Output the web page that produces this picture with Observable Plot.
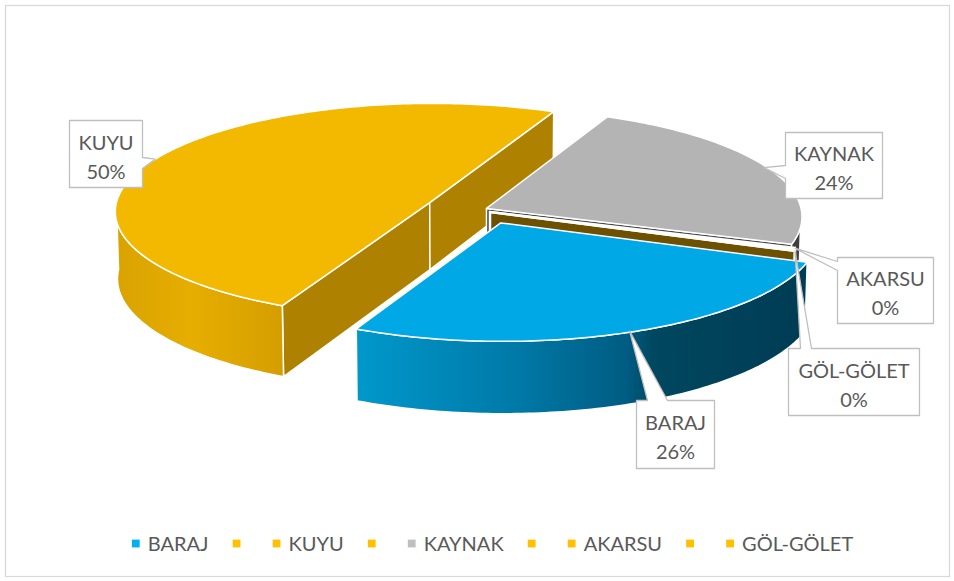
<!DOCTYPE html>
<html>
<head>
<meta charset="utf-8">
<script src="https://cdn.jsdelivr.net/npm/d3@7"></script>
<script src="https://cdn.jsdelivr.net/npm/@observablehq/plot@0.6"></script>
<style>
  html, body { margin: 0; padding: 0; background: #fff; }
  #chart { width: 954px; height: 581px; }
</style>
</head>
<body>
<div id="chart"></div>
<script>
// ---------------- DATA ----------------
const categories = ["BARAJ", "KUYU", "KAYNAK", "AKARSU", "GÖL-GÖLET"];
const values = [26.4, 49.7, 23.5, 0.2, 0.2];
const legendColors = ["#00B0F0", "#FFC000", "#BFBFBF", "#FFC000", "#FFC000"];
const phantomLegendColor = "#FFC000";

// ---------------- STYLE / LAYOUT ----------------
const topFill    = ["#00A8E6", "#F3B800", "#B4B4B4", "#F3B800", "#F3B800"];
const radialFill = ["#005A7E", "#AE8200", "#4A4A4A", "#6E5100", "#6E5100"];
const wallStops = [
  [[0, "#0098CB"], [0.35, "#007AA8"], [0.6, "#005C82"], [0.66, "#00475F"], [1, "#003C54"]],
  [[0, "#D9A200"], [0.45, "#E6AE00"], [1, "#D59E00"]],
  [[0, "#3E3E3E"], [1, "#3E3E3E"]],
  [[0, "#7A5A00"], [1, "#7A5A00"]],
  [[0, "#7A5A00"], [1, "#7A5A00"]]
];
// explosion offsets of each slice in the pie plane
const explode = [[30, 36], [-41, -23], [16, -6], [19, 3], [20, 6]];
const view = { cx: 470, cy: 210, R: 315, H: 72, tilt: 20, dist: 4000, start: 20.46 };
// callout boxes [x0,y0,x1,y1], pointer side & base along that side
const labelLayout = [
  { box: [636, 400, 714, 468], side: "top",   base: [647, 667], tipR: 0.99 },
  { box: [69, 120, 142, 187],  side: "right", base: [157, 168], tipR: 1.0 },
  { box: [785, 132, 882, 198], side: "left",  base: [165, 178], tipR: 0.99 },
  { box: [837, 257, 933, 323], side: "left",  base: [261, 270], tipR: 1.0 },
  { box: [788, 348, 919, 415], side: "top",   base: [800, 811], tipR: 1.0 }
];
const textColor = "#595959";
const fontFamily = "Lato, 'Open Sans', sans-serif";
const fontSize = 20;
const legendY = 543, legendCenter = 492;

// ---------------- GEOMETRY ----------------
const deg = Math.PI / 180;
function proj(u, v, h) {
  const sb = Math.sin(view.tilt * deg), cb = Math.cos(view.tilt * deg);
  const ys = v * sb - h * cb;
  const w = v * cb + h * sb;
  const s = view.dist / (view.dist - w);
  return { x: view.cx + s * u, y: view.cy + s * ys };
}
const total = d3.sum(values);
let acc = view.start;
const slices = values.map((v, i) => {
  const a = acc, b = acc + v / total * 360; acc = b;
  return { i, a, b, mid: (a + b) / 2, ou: explode[i][0], ov: explode[i][1] };
});
function pt(s, theta, h, rf = 1) {
  return proj(s.ou + rf * view.R * Math.cos(theta * deg), s.ov + rf * view.R * Math.sin(theta * deg), h);
}
function arc(s, a, b, h) {
  const n = Math.max(2, Math.ceil(Math.abs(b - a)) + 1);
  return d3.range(n).map(k => pt(s, a + (b - a) * k / (n - 1), h));
}
const apex = (s, h) => proj(s.ou, s.ov, h);

const depth = s => s.ov + 0.5 * view.R * Math.sin(s.mid * deg);
const order = slices.slice().sort((p, q) => depth(p) - depth(q));
const faces = [];
for (const s of order) {
  const Hb = -view.H;
  const walls = [];
  if (Math.cos(s.a * deg) < 0) walls.push(s.a);
  if (Math.cos(s.b * deg) > 0) walls.push(s.b);
  for (const t of walls) {
    faces.push({ pts: [apex(s, 0), pt(s, t, 0), pt(s, t, Hb), apex(s, Hb), apex(s, 0)], fill: radialFill[s.i] });
  }
  for (const base of [0, 360]) {
    const lo = Math.max(s.a, base), hi = Math.min(s.b, base + 180);
    if (hi > lo) {
      const top = arc(s, lo, hi, 0), bot = arc(s, hi, lo, Hb);
      faces.push({ pts: [...top, ...bot, top[0]], fill: `url(#wall${s.i})` });
    }
  }
  faces.push({ pts: [apex(s, 0), ...arc(s, s.a, s.b, 0), apex(s, 0)], fill: topFill[s.i] });
}

// ---------------- CALLOUTS ----------------
function callout(box, side, base, tip) {
  const [x0, y0, x1, y1] = box, [b1, b2] = base;
  const p = [[x0, y0]];
  if (side === "top") p.push([b1, y0], [tip.x, tip.y], [b2, y0]);
  p.push([x1, y0]);
  if (side === "right") p.push([x1, b1], [tip.x, tip.y], [x1, b2]);
  p.push([x1, y1]);
  if (side === "bottom") p.push([b2, y1], [tip.x, tip.y], [b1, y1]);
  p.push([x0, y1]);
  if (side === "left") p.push([x0, b2], [tip.x, tip.y], [x0, b1]);
  p.push([x0, y0]);
  return p.map(([x, y]) => ({ x, y }));
}
const labels = slices.map(s => {
  const L = labelLayout[s.i];
  const tip = pt(s, s.mid, 0, L.tipR);
  return {
    shape: callout(L.box, L.side, L.base, tip),
    x: (L.box[0] + L.box[2]) / 2,
    y: (L.box[1] + L.box[3]) / 2 + 1,
    text: `${categories[s.i]}\n${Math.round(values[s.i] / total * 100)}%`
  };
});
const labelOrder = [0, 1, 2, 4, 3];

// ---------------- LEGEND ----------------
const ctx = document.createElement("canvas").getContext("2d");
ctx.font = `${fontSize}px ${fontFamily}`;
const swatches = [], legendTexts = [];
let cur = 0;
categories.forEach((c, i) => {
  if (i > 0) {
    swatches.push({ x: cur + 28, color: phantomLegendColor });
    cur = cur + 28 + 40;
  }
  swatches.push({ x: cur, color: legendColors[i] });
  legendTexts.push({ x: cur + 12, text: c });
  cur = cur + 12 + ctx.measureText(c).width;
});
const legendWidth = cur + 4;
const shift = legendCenter - legendWidth / 2 + 4;
swatches.forEach(d => { d.x += shift; d.y = legendY; });
legendTexts.forEach(d => { d.x += shift; d.y = legendY; });

// ---------------- PLOT ----------------
const marks = [
  Plot.frame({ inset: 5, stroke: "#D9D9D9", strokeWidth: 1.3 })
];
for (const f of faces) {
  marks.push(Plot.line(f.pts, { x: "x", y: "y", fill: f.fill, stroke: "white", strokeWidth: 1.5, strokeLinejoin: "round" }));
}
for (const k of labelOrder) {
  const l = labels[k];
  marks.push(Plot.line(l.shape, { x: "x", y: "y", fill: "white", stroke: "#BFBFBF", strokeWidth: 1.3, strokeLinejoin: "miter" }));
}
marks.push(Plot.text(labels, { x: "x", y: "y", text: "text", fontSize, lineHeight: 1.45, fill: textColor, fontFamily }));
marks.push(Plot.dot(swatches, { x: "x", y: "y", fill: "color", symbol: "square", r: 4.4 }));
marks.push(Plot.text(legendTexts, { x: "x", y: "y", text: "text", textAnchor: "start", fontSize, fill: textColor, fontFamily, dy: 1 }));

const svg = Plot.plot({
  width: 954,
  height: 581,
  margin: 0,
  x: { domain: [0, 954], range: [0, 954], axis: null },
  y: { domain: [0, 581], range: [0, 581], axis: null },
  color: { type: "identity" },
  style: { background: "white", fontFamily, overflow: "visible" },
  marks
});

const defs = d3.select(svg).insert("defs", ":first-child");
wallStops.forEach((stops, i) => {
  const g = defs.append("linearGradient").attr("id", `wall${i}`).attr("x1", 0).attr("x2", 1).attr("y1", 0).attr("y2", 0);
  stops.forEach(([o, c]) => g.append("stop").attr("offset", o).attr("stop-color", c));
});

document.getElementById("chart").appendChild(svg);
</script>
</body>
</html>
